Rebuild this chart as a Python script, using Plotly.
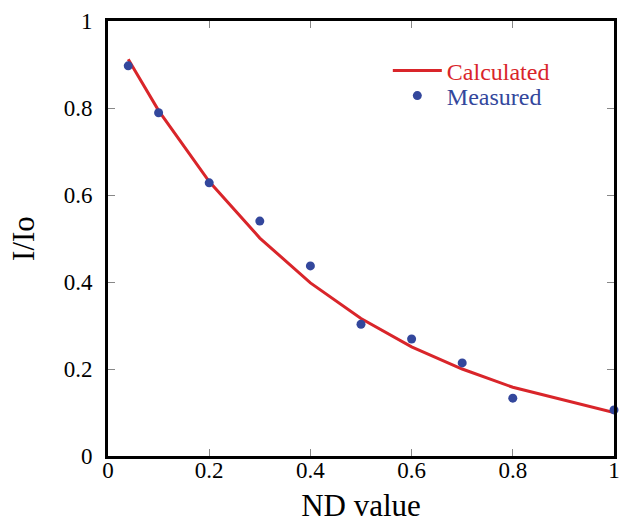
import plotly.graph_objects as go

# Transmission through neutral-density filters
nd_calc = [0.04, 0.1, 0.2, 0.3, 0.4, 0.5, 0.6, 0.7, 0.8, 1.0]
i_calc = [0.912, 0.794, 0.631, 0.501, 0.398, 0.316, 0.251, 0.200, 0.158, 0.100]

nd_meas = [0.04, 0.1, 0.2, 0.3, 0.4, 0.5, 0.6, 0.7, 0.8, 1.0]
i_meas = [0.897, 0.789, 0.628, 0.540, 0.437, 0.303, 0.269, 0.214, 0.133, 0.106]

tick_vals = [0, 0.2, 0.4, 0.6, 0.8, 1]
tick_text = ["0", "0.2", "0.4", "0.6", "0.8", "1"]

RED = "#d9252a"
BLUE = "#33479c"
FONT = "Liberation Serif"

fig = go.Figure()
fig.add_trace(go.Scatter(
    x=nd_calc, y=i_calc, mode="lines",
    line=dict(color=RED, width=3),
    name=f'<span style="color:{RED}">Calculated</span>',
    legend="legend",
))
fig.add_trace(go.Scatter(
    x=nd_meas, y=i_meas, mode="markers",
    marker=dict(color=BLUE, size=9, symbol="circle"),
    name=f'<span style="color:{BLUE}">Measured</span>',
    cliponaxis=False,
    legend="legend2",
))

axis_common = dict(
    range=[0, 1],
    tickvals=tick_vals,
    ticktext=tick_text,
    ticks="inside",
    ticklen=7,
    tickwidth=1,
    tickcolor="#888888",
    showline=True,
    linecolor="black",
    linewidth=3,
    mirror="ticks",
    showgrid=False,
    zeroline=False,
    automargin=False,
    tickfont=dict(family=FONT, size=23, color="black"),
)

fig.update_xaxes(
    **axis_common,
    ticklabelstandoff=-9,
    title=dict(text="ND value", font=dict(family=FONT, size=31, color="black"), standoff=20),
)
fig.update_yaxes(
    **axis_common,
    ticklabelstandoff=8,
    title=dict(text="I/Io", font=dict(family=FONT, size=31, color="black"), standoff=20),
)

legend_common = dict(
    xanchor="left", yanchor="middle",
    bgcolor="rgba(0,0,0,0)",
    font=dict(family=FONT, size=24),
    itemwidth=49,
)

fig.update_layout(
    width=626,
    height=523,
    margin=dict(l=108, r=12, t=21, b=67),
    paper_bgcolor="white",
    plot_bgcolor="white",
    showlegend=True,
    legend=dict(x=0.553, y=1 - (71 - 21) / 435, **legend_common),
    legend2=dict(x=0.553, y=1 - (96 - 21) / 435, **legend_common),
)

fig.write_html("out.html")
